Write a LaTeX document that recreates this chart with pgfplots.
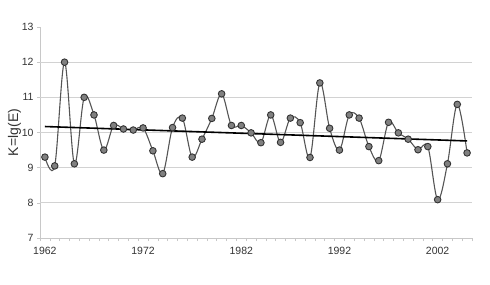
\documentclass[border=0pt]{standalone}
\usepackage{pgfplots}
\pgfplotsset{compat=1.18}
\usepackage{fontspec}
\setmainfont{Liberation Sans}
\definecolor{gridc}{HTML}{D2D2D2}
\definecolor{axc}{HTML}{C8C8C8}
\definecolor{linec}{HTML}{555555}
\definecolor{markc}{HTML}{808080}
\definecolor{txtc}{HTML}{333333}
\begin{document}
\begin{tikzpicture}[x=1pt,y=1pt]
\useasboundingbox (0,0) rectangle (490,284);
\begin{axis}[
  at={(40pt,46pt)}, anchor=south west,
  scale only axis, width=432pt, height=211pt,
  xmin=1961.5, xmax=2005.5, ymin=7, ymax=13,
  axis lines*=left,
  axis line style={axc, line width=0.8pt},
  xtick={1962,1972,1982,1992,2002},
  minor xtick={1961.5,1962.5,...,2005.5},
  major x tick style={draw=none},
  minor x tick style={axc, line width=0.6pt},
  minor tick length=3pt,
  ytick={7,8,...,13},
  y tick style={axc, line width=0.6pt},
  major tick length=3pt,
  tick align=outside,
  xticklabel style={font=\fontsize{10.5}{12}\selectfont, text=txtc, yshift=-3pt},
  yticklabel style={font=\fontsize{10.5}{12}\selectfont, text=txtc},
  /pgf/number format/assume math mode=true,
  /pgf/number format/1000 sep={},
  ylabel={K=lg(E)},
  ylabel style={font=\fontsize{14}{16}\selectfont, text=txtc, yshift=-6pt},
  clip=false,
]
\foreach \g in {8,9,10,11,12}{
  \edef\tmp{\noexpand\draw[gridc, line width=1.3pt] (axis cs:1961.5,\g) -- (axis cs:2005.5,\g);}
  \tmp
}
\addplot[linec, line width=1.1pt, smooth, tension=0.55,
  mark=*, mark size=3.3pt,
  mark options={fill=markc, draw=black!80, line width=0.9pt}]
coordinates {
(1962,9.30) (1963,9.05) (1964,12.00) (1965,9.11) (1966,11.00) (1967,10.50)
(1968,9.50) (1969,10.20) (1970,10.10) (1971,10.07) (1972,10.13) (1973,9.48)
(1974,8.83) (1975,10.14) (1976,10.41) (1977,9.30) (1978,9.81) (1979,10.40)
(1980,11.10) (1981,10.20) (1982,10.20) (1983,9.99) (1984,9.71) (1985,10.50)
(1986,9.72) (1987,10.41) (1988,10.28) (1989,9.29) (1990,11.41) (1991,10.12)
(1992,9.50) (1993,10.50) (1994,10.41) (1995,9.60) (1996,9.20) (1997,10.29)
(1998,9.99) (1999,9.81) (2000,9.51) (2001,9.60) (2002,8.09) (2003,9.11)
(2004,10.80) (2005,9.42)
};
\addplot[black, line width=1.6pt] coordinates {(1962,10.17) (2005,9.76)};
\end{axis}
\end{tikzpicture}
\end{document}
